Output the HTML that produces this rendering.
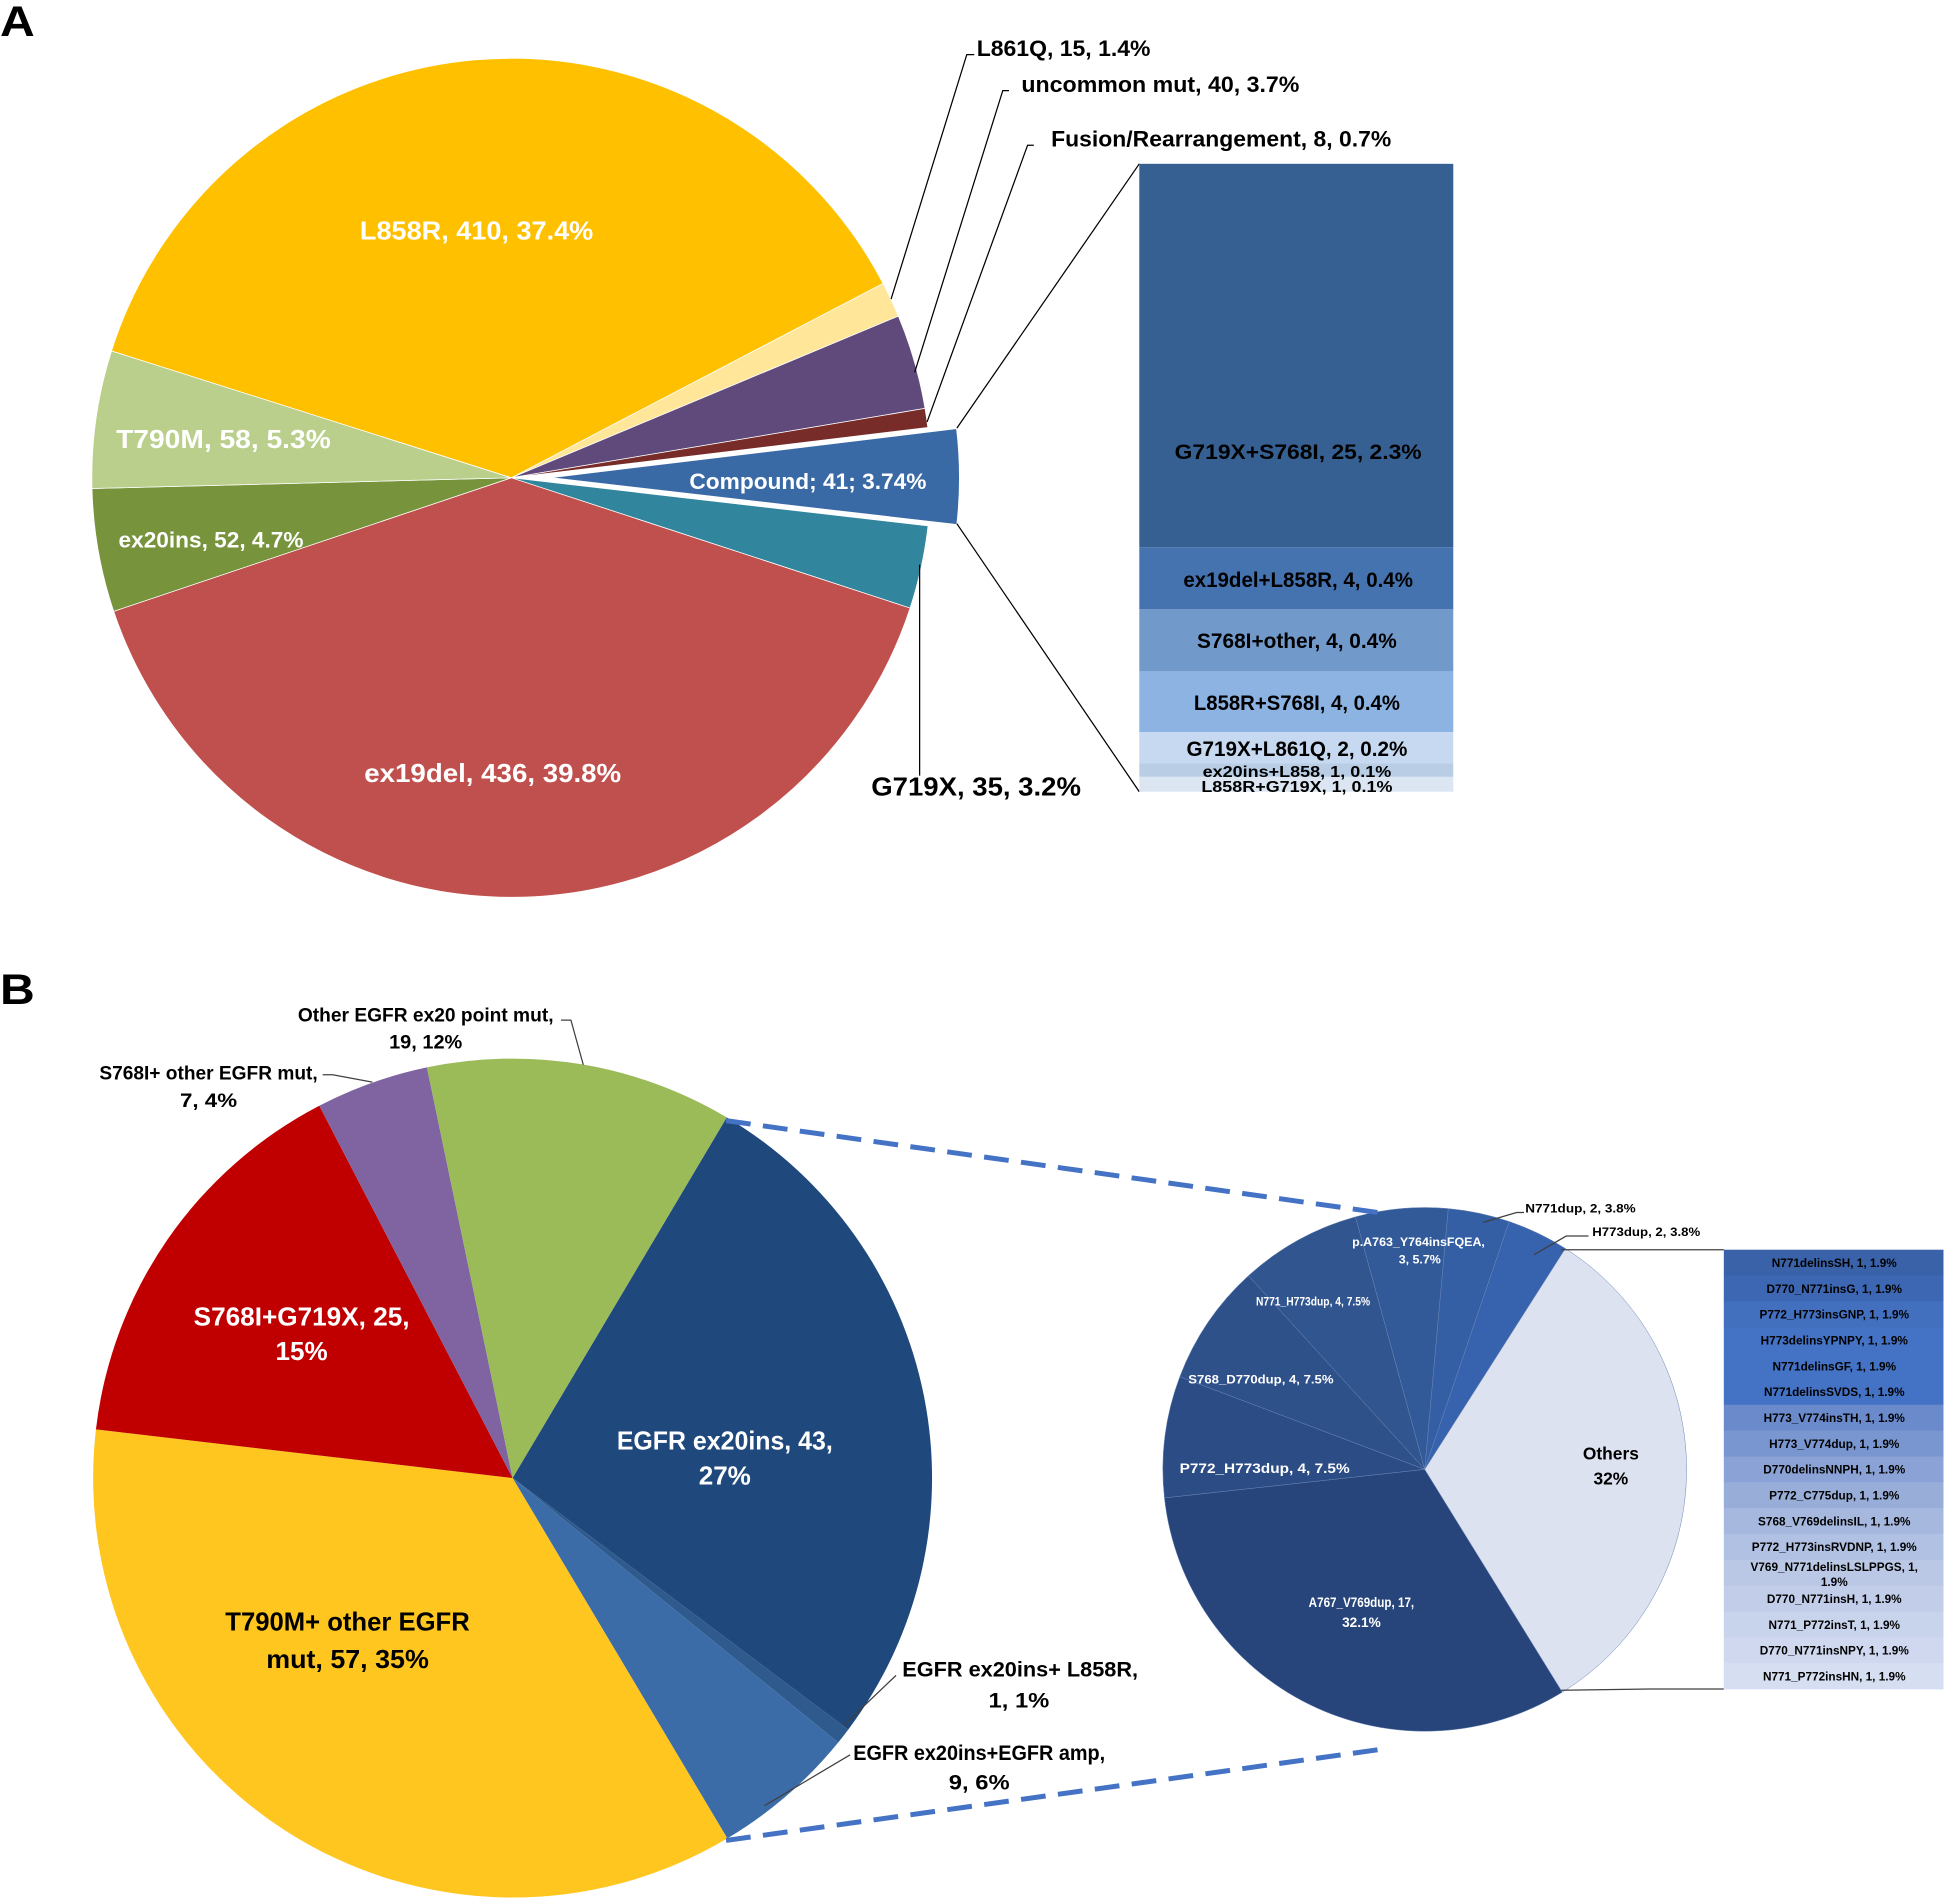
<!DOCTYPE html>
<html><head><meta charset="utf-8">
<style>
html,body{margin:0;padding:0;background:#fff;}
svg{display:block;}
text{font-family:"Liberation Sans",sans-serif;font-weight:bold;}
</style></head>
<body>
<svg id="s" width="1946" height="1900" viewBox="0 0 1568 1531" xmlns="http://www.w3.org/2000/svg">
<rect width="1568" height="1531" fill="#fff"/>
<g id="pa"></g>
<g id="pb"></g>
<g id="pc"></g>

<!-- Panel A labels -->
<text x="0" y="29" font-size="34" textLength="28" lengthAdjust="spacingAndGlyphs">A</text>
<text x="0" y="809" font-size="34" textLength="28" lengthAdjust="spacingAndGlyphs">B</text>

<g fill="#fff" font-size="21" text-anchor="middle">
<text x="384" y="193" textLength="188" lengthAdjust="spacingAndGlyphs">L858R, 410, 37.4%</text>
<text x="180" y="361" textLength="173" lengthAdjust="spacingAndGlyphs">T790M, 58, 5.3%</text>
<text x="170" y="441" font-size="18" textLength="149" lengthAdjust="spacingAndGlyphs">ex20ins, 52, 4.7%</text>
<text x="397" y="630" textLength="207" lengthAdjust="spacingAndGlyphs">ex19del, 436, 39.8%</text>
<text x="651" y="394" font-size="18" textLength="191" lengthAdjust="spacingAndGlyphs">Compound; 41; 3.74%</text>
</g>
<g fill="#000" font-size="18">
<text x="702" y="641" font-size="21" textLength="169" lengthAdjust="spacingAndGlyphs">G719X, 35, 3.2%</text>
<text x="787" y="45" textLength="140" lengthAdjust="spacingAndGlyphs">L861Q, 15, 1.4%</text>
<text x="823" y="74" textLength="224" lengthAdjust="spacingAndGlyphs">uncommon mut, 40, 3.7%</text>
<text x="847" y="118" textLength="274" lengthAdjust="spacingAndGlyphs">Fusion/Rearrangement, 8, 0.7%</text>
</g>
<g stroke="#000" stroke-width="1" fill="none">
<polyline points="718,241 779,44 785,44"/>
<polyline points="737,300 808,73 813,73"/>
<polyline points="747,340 828,117 833,117"/>
<line x1="741" y1="455" x2="741" y2="625"/>
<line x1="771" y1="345" x2="918" y2="132"/>
<line x1="771" y1="422" x2="918" y2="638"/>
</g>

<!-- Stacked bar -->
<rect x="918" y="132" width="253" height="309" fill="#376092"/>
<rect x="918" y="441" width="253" height="50" fill="#4473B0"/>
<rect x="918" y="491" width="253" height="50" fill="#7199CA"/>
<rect x="918" y="541" width="253" height="49" fill="#8DB3E2"/>
<rect x="918" y="590" width="253" height="25" fill="#C6D9F1"/>
<rect x="918" y="615" width="253" height="11" fill="#B9CDE5"/>
<rect x="918" y="626" width="253" height="12" fill="#DCE6F2"/>
<g fill="#000" font-size="17" text-anchor="middle">
<text x="1046" y="370" textLength="199" lengthAdjust="spacingAndGlyphs">G719X+S768I, 25, 2.3%</text>
<text x="1046" y="473" textLength="185" lengthAdjust="spacingAndGlyphs">ex19del+L858R, 4, 0.4%</text>
<text x="1045" y="522" textLength="161" lengthAdjust="spacingAndGlyphs">S768I+other, 4, 0.4%</text>
<text x="1045" y="572" textLength="166" lengthAdjust="spacingAndGlyphs">L858R+S768I, 4, 0.4%</text>
<text x="1045" y="609" textLength="178" lengthAdjust="spacingAndGlyphs">G719X+L861Q, 2, 0.2%</text>
<text x="1045" y="626" font-size="13" textLength="152" lengthAdjust="spacingAndGlyphs">ex20ins+L858, 1, 0.1%</text>
<text x="1045" y="638" font-size="13" textLength="154" lengthAdjust="spacingAndGlyphs">L858R+G719X, 1, 0.1%</text>
</g>

<!-- Panel B labels -->
<g fill="#000" font-size="16" text-anchor="middle">
<text x="343" y="823" textLength="206" lengthAdjust="spacingAndGlyphs">Other EGFR ex20 point mut,</text>
<text x="343" y="845" textLength="59" lengthAdjust="spacingAndGlyphs">19, 12%</text>
<text x="168" y="870" textLength="176" lengthAdjust="spacingAndGlyphs">S768I+ other EGFR mut,</text>
<text x="168" y="892" textLength="46" lengthAdjust="spacingAndGlyphs">7, 4%</text>
<text x="822" y="1351" font-size="17" textLength="190" lengthAdjust="spacingAndGlyphs">EGFR ex20ins+ L858R,</text>
<text x="821" y="1376" font-size="17" textLength="49" lengthAdjust="spacingAndGlyphs">1, 1%</text>
<text x="789" y="1418" font-size="17" textLength="203" lengthAdjust="spacingAndGlyphs">EGFR ex20ins+EGFR amp,</text>
<text x="789" y="1442" font-size="17" textLength="49" lengthAdjust="spacingAndGlyphs">9, 6%</text>
<text x="280" y="1314" font-size="21" textLength="197" lengthAdjust="spacingAndGlyphs">T790M+ other EGFR</text>
<text x="280" y="1344" font-size="21" textLength="131" lengthAdjust="spacingAndGlyphs">mut, 57, 35%</text>
</g>
<g fill="#fff" font-size="21" text-anchor="middle">
<text x="243" y="1068" textLength="174" lengthAdjust="spacingAndGlyphs">S768I+G719X, 25,</text>
<text x="243" y="1096">15%</text>
<text x="584" y="1168" textLength="174" lengthAdjust="spacingAndGlyphs">EGFR ex20ins, 43,</text>
<text x="584" y="1196">27%</text>
</g>
<g stroke="#404040" stroke-width="1" fill="none">
<polyline points="470,858 460,822 452,822"/>
<polyline points="300,872 268,866 260,866"/>
<line x1="680" y1="1390" x2="722" y2="1350"/>
<line x1="616" y1="1455" x2="685" y2="1414"/>
<polyline points="1195,985 1222,977 1228,977"/>
<polyline points="1236,1011 1262,996 1280,996"/>
<polyline points="1258,1007 1330,1007 1389,1007"/>
<polyline points="1258,1362 1330,1361 1389,1361"/>
</g>
<g stroke="#4472C4" stroke-width="4" stroke-dasharray="20,10" fill="none">
<line x1="585" y1="903" x2="1110" y2="977"/>
<line x1="585" y1="1483" x2="1110" y2="1410"/>
</g>

<!-- small pie labels -->
<g fill="#fff" font-size="11" text-anchor="middle">
<text x="1097" y="1295" textLength="85" lengthAdjust="spacingAndGlyphs">A767_V769dup, 17,</text>
<text x="1097" y="1311">32.1%</text>
<text x="1019" y="1187" textLength="137" lengthAdjust="spacingAndGlyphs">P772_H773dup, 4, 7.5%</text>
<text x="1016" y="1115" font-size="10" textLength="117" lengthAdjust="spacingAndGlyphs">S768_D770dup, 4, 7.5%</text>
<text x="1058" y="1052" font-size="10" textLength="92" lengthAdjust="spacingAndGlyphs">N771_H773dup, 4, 7.5%</text>
<text x="1143" y="1004" font-size="10" textLength="107" lengthAdjust="spacingAndGlyphs">p.A763_Y764insFQEA,</text>
<text x="1144" y="1018" font-size="10">3, 5.7%</text>
</g>
<g fill="#000" font-size="10">
<text x="1229" y="977" textLength="89" lengthAdjust="spacingAndGlyphs">N771dup, 2, 3.8%</text>
<text x="1283" y="996" textLength="87" lengthAdjust="spacingAndGlyphs">H773dup, 2, 3.8%</text>
<text x="1298" y="1176" font-size="14" text-anchor="middle">Others</text>
<text x="1298" y="1196" font-size="14" text-anchor="middle">32%</text>
</g>
<g id="tbl"></g>

<script>
(function(){
var NS="http://www.w3.org/2000/svg";
function el(p,t,a){var e=document.createElementNS(NS,t);for(var k in a)e.setAttribute(k,a[k]);p.appendChild(e);return e;}
function pt(cx,cy,r,a){a=a*Math.PI/180;return [cx+r*Math.cos(a),cy+r*Math.sin(a)];}
function slice(g,cx,cy,r,a0,a1,fill,stroke,sw){
 var p0=pt(cx,cy,r,a0),p1=pt(cx,cy,r,a1),lg=(a1-a0)>180?1:0;
 el(g,"path",{d:"M"+cx+","+cy+" L"+p0[0]+","+p0[1]+" A"+r+","+r+" 0 "+lg+" 1 "+p1[0]+","+p1[1]+" Z",fill:fill,stroke:stroke||"none","stroke-width":sw||0,"stroke-linejoin":"round"});
}
function pie(g,cx,cy,r,start,data,stroke,sw){
 var tot=0;data.forEach(function(d){tot+=d[0];});
 var a=start;
 data.forEach(function(d){var s=d[0]/tot*360;var ox=0,oy=0;
  if(d[2]){var m=(a+s/2)*Math.PI/180;ox=d[2]*Math.cos(m);oy=d[2]*Math.sin(m);}
  slice(g,cx+ox,cy+oy,r,a,a+s,d[1],d[3]||stroke,d[4]||sw);a+=s;});
}
var A=document.getElementById("pa");
pie(A,412,385,338,-27.8-134.6,[
 [410,"#FFC000"],[15,"#FFE699"],[40,"#604A7B"],[8,"#772C2A"],[41,"#3A6AA6",24,"#fff",2.5],
 [35,"#31859C"],[436,"#C0504D"],[52,"#77933C"],[58,"#B9CF8B"]],"#fff",0.6);
var B=document.getElementById("pb");
pie(B,413,1191,338,-59.3,[
 [43,"#1F497D"],[1,"#2E5A8E"],[9,"#3C6CA7"],[57,"#FFC620"],[25,"#C00000"],[7,"#8064A2"],[19,"#9BBB59"]],"none",0);
var C=document.getElementById("pc");
pie(C,1148,1184,211,58.3,[
 [32.1,"#27457A"],[7.5,"#2B4C85"],[7.5,"#2E518A"],[7.5,"#30558F"],[5.7,"#325A99"],[3.8,"#345FA4"],[3.8,"#3762AE"],[32.2,"#DCE2F0"]],"#6d86b5",0.4);
// table
var T=document.getElementById("tbl");
var rows=["N771delinsSH, 1, 1.9%","D770_N771insG, 1, 1.9%","P772_H773insGNP, 1, 1.9%","H773delinsYPNPY, 1, 1.9%","N771delinsGF, 1, 1.9%","N771delinsSVDS, 1, 1.9%","H773_V774insTH, 1, 1.9%","H773_V774dup, 1, 1.9%","D770delinsNNPH, 1, 1.9%","P772_C775dup, 1, 1.9%","S768_V769delinsIL, 1, 1.9%","P772_H773insRVDNP, 1, 1.9%","V769_N771delinsLSLPPGS, 1,","D770_N771insH, 1, 1.9%","N771_P772insT, 1, 1.9%","D770_N771insNPY, 1, 1.9%","N771_P772insHN, 1, 1.9%"];
var cols=["#3A62A8","#3D67B2","#4270BE","#4472C4","#4472C4","#4472C4","#6A8ACB","#7A96D0","#8AA2D5","#98AED9","#A6B8DE","#B1C1E3","#BAC8E6","#C1CDE9","#C8D3EC","#CFD8EE","#D6DEF1"];
var y0=1007,h=(1361-1007)/17;
for(var i=0;i<17;i++){
 el(T,"rect",{x:1389,y:y0+i*h,width:177,height:h+0.3,fill:cols[i]});
}
for(var i=0;i<17;i++){
 var t=el(T,"text",{x:1478,y:(i==12?y0+i*h+9:y0+i*h+h/2+3.5),"font-size":"9.5","text-anchor":"middle",fill:"#000"});
 t.textContent=rows[i];
 if(i==12){var t2=el(T,"text",{x:1478,y:y0+i*h+21,"font-size":"9.5","text-anchor":"middle",fill:"#000"});t2.textContent="1.9%";}
}
// bring labels above pies: move pie groups to front of svg
var s=document.getElementById("s");
s.insertBefore(C,s.children[1]);s.insertBefore(B,s.children[1]);s.insertBefore(A,s.children[1]);
})();
</script>
</svg>
</body></html>
